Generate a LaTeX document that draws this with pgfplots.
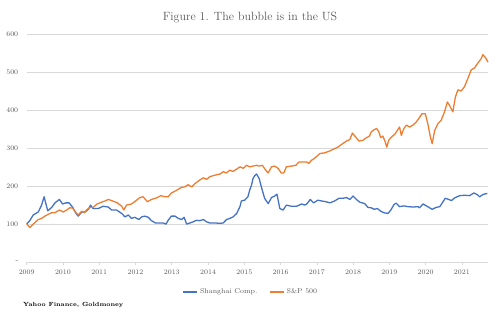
\documentclass[border=0pt]{standalone}
\usepackage{pgfplots}
\usepackage{pgfplotstable}
\pgfplotsset{compat=1.18}
\definecolor{xlblue}{RGB}{68,114,196}
\definecolor{xlorange}{RGB}{237,125,49}
\definecolor{gridgray}{RGB}{217,217,217}
\definecolor{txtgray}{RGB}{89,89,89}

\pgfplotstableread{
year val
2009.00 100
2009.09 110
2009.18 124
2009.32 132
2009.41 150
2009.48 172
2009.58 135
2009.69 144
2009.78 156
2009.90 165
2009.99 153
2010.08 156
2010.17 156
2010.27 144
2010.36 128
2010.42 121
2010.52 132
2010.61 132
2010.70 139
2010.76 150
2010.83 141
2010.97 141
2011.11 147
2011.25 145
2011.34 137
2011.48 137
2011.62 128
2011.71 119
2011.80 124
2011.89 115
2011.98 118
2012.09 112
2012.17 119
2012.26 121
2012.35 118
2012.44 109
2012.55 103
2012.67 103
2012.76 103
2012.84 100
2012.90 110
2012.99 121
2013.09 121
2013.18 115
2013.27 112
2013.34 118
2013.41 100
2013.50 103
2013.59 106
2013.68 110
2013.77 109
2013.87 112
2013.96 106
2014.05 103
2014.19 103
2014.33 102
2014.42 103
2014.51 112
2014.60 115
2014.69 119
2014.79 128
2014.88 146
2014.92 161
2015.01 163
2015.10 172
2015.15 190
2015.20 203
2015.24 220
2015.29 228
2015.34 232
2015.41 220
2015.47 198
2015.56 168
2015.66 154
2015.75 170
2015.84 174
2015.90 179
2015.98 141
2016.07 137
2016.16 150
2016.30 147
2016.44 147
2016.58 153
2016.67 150
2016.73 154
2016.82 165
2016.91 156
2017.03 163
2017.13 161
2017.25 159
2017.36 156
2017.49 161
2017.61 168
2017.72 168
2017.82 170
2017.91 165
2018.00 174
2018.09 165
2018.18 158
2018.32 154
2018.41 144
2018.50 143
2018.58 139
2018.67 141
2018.76 134
2018.85 130
2018.96 128
2019.04 137
2019.13 152
2019.19 155
2019.28 146
2019.40 148
2019.51 146
2019.65 145
2019.79 146
2019.83 143
2019.93 153
2020.02 148
2020.11 143
2020.18 139
2020.29 144
2020.39 146
2020.48 159
2020.54 168
2020.61 166
2020.71 162
2020.80 169
2020.94 175
2021.08 176
2021.21 175
2021.33 182
2021.42 178
2021.49 172
2021.58 178
2021.70 181
}\shanghai

\pgfplotstableread{
year val
2009.00 100
2009.09 91
2009.18 100
2009.32 112
2009.41 115
2009.50 121
2009.60 126
2009.69 130
2009.78 130
2009.90 137
2010.01 132
2010.10 137
2010.19 143
2010.27 142
2010.36 130
2010.42 124
2010.52 134
2010.59 130
2010.65 137
2010.74 144
2010.83 144
2010.94 153
2011.07 158
2011.16 161
2011.25 165
2011.37 161
2011.50 156
2011.62 147
2011.68 137
2011.75 150
2011.89 153
2012.03 163
2012.12 170
2012.21 172
2012.33 159
2012.44 165
2012.58 169
2012.70 175
2012.81 172
2012.90 172
2012.99 182
2013.13 189
2013.27 197
2013.36 198
2013.45 204
2013.55 198
2013.64 207
2013.77 216
2013.87 222
2013.96 218
2014.05 225
2014.19 229
2014.33 232
2014.42 238
2014.51 235
2014.60 242
2014.69 239
2014.79 245
2014.88 251
2014.97 247
2015.06 255
2015.15 251
2015.24 253
2015.34 255
2015.41 253
2015.50 255
2015.59 242
2015.66 235
2015.75 251
2015.84 253
2015.93 247
2016.02 235
2016.09 235
2016.16 251
2016.30 253
2016.42 255
2016.51 264
2016.62 264
2016.71 264
2016.78 260
2016.85 268
2016.97 276
2017.08 286
2017.22 288
2017.36 293
2017.49 299
2017.58 303
2017.71 312
2017.82 319
2017.91 323
2017.98 340
2018.07 330
2018.16 319
2018.27 321
2018.37 328
2018.45 332
2018.50 343
2018.58 349
2018.65 352
2018.71 343
2018.76 328
2018.82 332
2018.87 321
2018.93 303
2018.98 321
2019.06 330
2019.15 337
2019.22 347
2019.28 356
2019.33 334
2019.40 352
2019.47 361
2019.56 356
2019.65 361
2019.74 369
2019.83 381
2019.90 391
2019.99 391
2020.06 365
2020.13 330
2020.18 312
2020.25 347
2020.34 365
2020.43 374
2020.52 396
2020.60 422
2020.66 413
2020.75 396
2020.82 435
2020.89 454
2020.98 451
2021.07 462
2021.16 483
2021.26 507
2021.35 512
2021.44 525
2021.53 536
2021.58 547
2021.65 539
2021.72 527
}\spx

\begin{document}
\begin{tikzpicture}[x=1bp,y=1bp]
\useasboundingbox (0,0) rectangle (500,322);
\node[text=txtgray,font=\fontsize{12}{14}\selectfont] at (250,304) {Figure 1. The bubble is in the US};
\node[anchor=west,font=\fontsize{6}{7}\selectfont\bfseries,inner sep=0pt] at (23,17) {Yahoo Finance, Goldmoney};
\begin{axis}[
  at={(26.7bp,60bp)}, anchor=origin,
  scale only axis, width=461.3bp, height=227.5bp,
  xmin=2009, xmax=2021.72, ymin=0, ymax=600,
  xtick={2009,2010,...,2021},
  xticklabels={2009,2010,2011,2012,2013,2014,2015,2016,2017,2018,2019,2020,2021},
  ytick={0,100,...,600},
  yticklabels={{-\hspace{4bp}},100,200,300,400,500,600},
  /pgf/number format/assume math mode=true,
  ymajorgrids, grid style={gridgray,line width=0.6pt},
  separate axis lines,
  axis x line*=bottom, axis y line*=left,
  x axis line style={draw=gridgray,line width=0.6pt,-},
  y axis line style={draw=none},
  xtick style={draw=gridgray,line width=0.6pt},
  ytick style={draw=none},
  tick align=outside, major tick length=3bp,
  ticklabel style={text=txtgray,font=\fontsize{7}{8}\selectfont},
  xticklabel style={yshift=-1bp},
  yticklabel style={xshift=-2bp},
  clip=false,
  legend columns=2,
  legend style={at={(0.486,-0.132)},anchor=center,draw=none,fill=none,
    font=\fontsize{7}{8}\selectfont,text=txtgray,
    /tikz/every even column/.append style={column sep=10bp}},
  legend image code/.code={\draw[#1,line width=1.4pt] (0bp,0bp) -- (14bp,0bp);},
]
\addplot[xlblue,line width=1.3pt,line join=round] table[x=year,y=val] {\shanghai};
\addlegendentry{Shanghai Comp.}
\addplot[xlorange,line width=1.3pt,line join=round] table[x=year,y=val] {\spx};
\addlegendentry{S\&P 500}
\end{axis}
\end{tikzpicture}
\end{document}
